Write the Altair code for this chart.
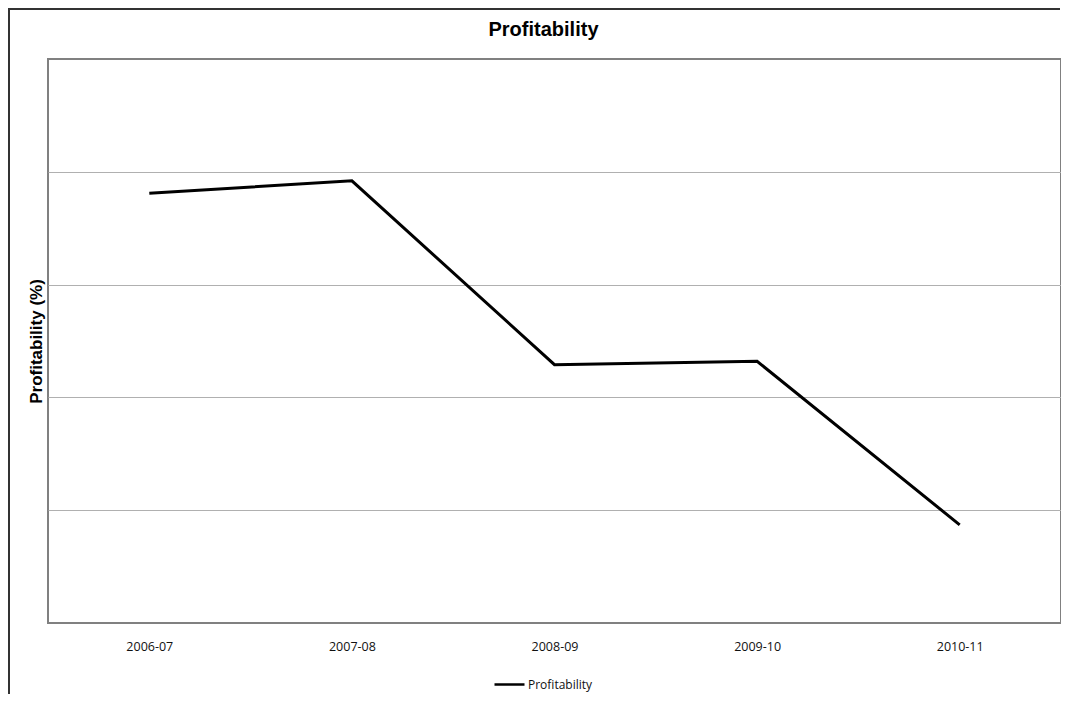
import altair as alt
import pandas as pd

periods = ["2006-07", "2007-08", "2008-09", "2009-10", "2010-11"]
profitability = [3.81, 3.92, 2.29, 2.32, 0.87]
series_name = ["Profitability"] * len(periods)

df = pd.DataFrame({"Period": periods, "Value": profitability, "Series": series_name})

W, H = 1013, 564

line = alt.Chart(df).mark_line(strokeWidth=3, color="black").encode(
    x=alt.X("Period:N", sort=periods, title=None,
            axis=alt.Axis(labelAngle=0, ticks=False, domain=False, grid=False,
                          labelPadding=17, labelFontSize=12.5, labelFont="Open Sans",
                          labelColor="#111")),
    y=alt.Y("Value:Q", scale=alt.Scale(domain=[0, 5], nice=False),
            title="Profitability (%)",
            axis=alt.Axis(labels=False, ticks=False, domain=False, values=[1, 2, 3, 4],
                          grid=True, gridColor="#b0b0b0", gridWidth=1,
                          titleFont="Liberation Sans", titleFontSize=17, titleFontWeight="bold",
                          titleColor="black", titlePadding=3)),
    color=alt.Color("Series:N", scale=alt.Scale(range=["black"]),
                    legend=alt.Legend(title=None, orient="none", legendX=445, legendY=609,
                                      symbolType="stroke", symbolSize=900, symbolStrokeWidth=2.5,
                                      labelFont="Open Sans", labelFontSize=12, labelColor="#111",
                                      labelOffset=2)),
)

frame_top = alt.Chart(df).mark_rule(color="#333", strokeWidth=2).encode(
    x=alt.value(-40), x2=alt.value(W - 1), y=alt.value(-50)
)
frame_left = alt.Chart(df).mark_rule(color="#333", strokeWidth=2).encode(
    x=alt.value(-39), y=alt.value(-51), y2=alt.value(H + 80)
)

chart = alt.layer(line, frame_top, frame_left).properties(
    width=W, height=H,
    title=alt.TitleParams("Profitability", font="Liberation Sans", fontSize=20,
                          fontWeight="bold", color="black", anchor="middle", dx=-11, offset=-33),
    autosize=alt.AutoSizeParams(type="none"),
    padding={"left": 40, "top": 51, "right": 0, "bottom": 71},
).configure(background="white").configure_view(stroke="#808080", strokeWidth=2)

chart.save("out.html", embed_options={"renderer": "svg", "actions": False})
